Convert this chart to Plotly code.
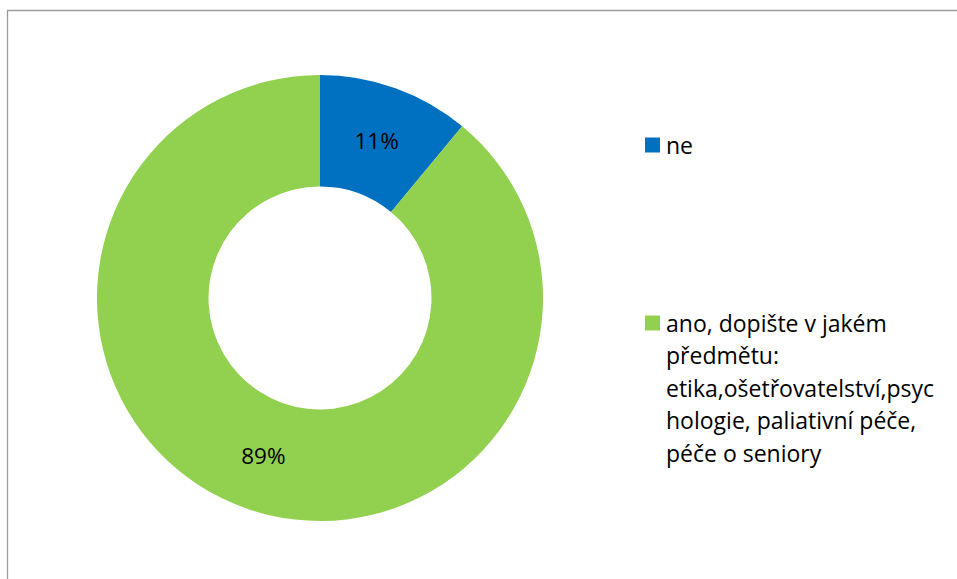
import plotly.graph_objects as go

# Survey answers and their shares (percent)
labels = ["ne", "ano, dopište v jakém předmětu: etika,ošetřovatelství,psychologie, paliativní péče, péče o seniory"]
values = [11, 89]
colors = ["#0070C0", "#92D050"]

# Legend text as it wraps beside the chart
legend_lines = [
    ["ne"],
    ["ano, dopište v jakém", "předmětu:", "etika,ošetřovatelství,psyc", "hologie, paliativní péče,", "péče o seniory"],
]

W, H = 957, 579
FONT = "'Open Sans', Lato, sans-serif"


def px_x(x):
    return x / W


def px_y(y):
    return 1 - y / H


fig = go.Figure()
fig.add_trace(go.Pie(
    labels=labels,
    values=values,
    hole=0.5,
    sort=False,
    direction="clockwise",
    rotation=0,
    marker=dict(colors=colors, line=dict(width=0)),
    texttemplate="%{percent:.0%}",
    textinfo="percent",
    textposition="inside",
    insidetextorientation="horizontal",
    textfont=dict(family=FONT, size=22.5, color="#000000"),
    domain=dict(x=[px_x(97), px_x(543)], y=[px_y(521), px_y(75)]),
    showlegend=False,
    hoverinfo="label+percent",
))

shapes = [
    # chart-area frame
    dict(type="rect", xref="paper", yref="paper",
         x0=px_x(7.5), x1=px_x(W + 20), y0=px_y(H + 20), y1=px_y(10.5),
         line=dict(color="#9c9c9c", width=1.3), fillcolor="rgba(0,0,0,0)"),
]
annotations = []

# legend: square swatch + wrapped label lines
entry_baselines = [152, 330]
line_gap = 32.5
for color, lines, base in zip(colors, legend_lines, entry_baselines):
    sq_cy = base - 7
    shapes.append(dict(type="rect", xref="paper", yref="paper",
                       x0=px_x(645), x1=px_x(660),
                       y0=px_y(sq_cy + 7.5), y1=px_y(sq_cy - 7.5),
                       line=dict(width=0), fillcolor=color))
    for i, txt in enumerate(lines):
        annotations.append(dict(
            xref="paper", yref="paper",
            x=px_x(664), y=px_y(base + i * line_gap - 7.5),
            xanchor="left", yanchor="middle",
            text=txt, showarrow=False, align="left",
            font=dict(family=FONT, size=23, color="#000000"),
        ))

fig.update_layout(
    width=W, height=H,
    margin=dict(l=0, r=0, t=0, b=0),
    paper_bgcolor="#ffffff",
    plot_bgcolor="#ffffff",
    shapes=shapes,
    annotations=annotations,
)

fig.write_html("out.html")
